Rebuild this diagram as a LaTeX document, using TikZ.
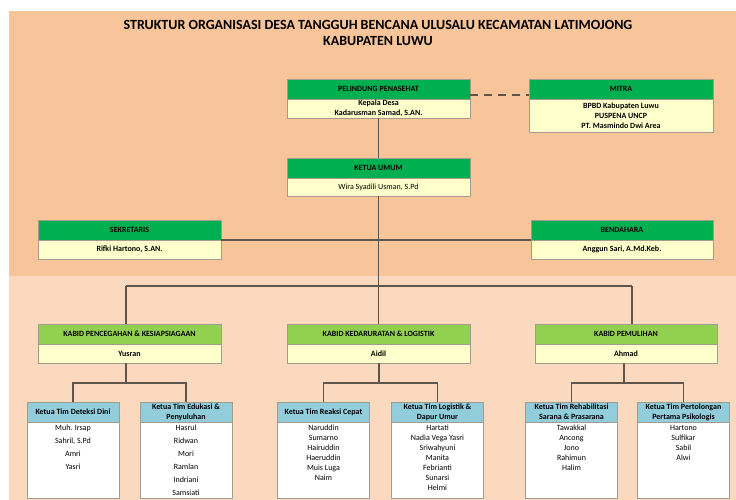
\documentclass[tikz,border=0pt]{standalone}
\usepackage{fontspec}
\setmainfont{Carlito}
\usepackage{tikz}
\usetikzlibrary{positioning}
\definecolor{bgtop}{HTML}{F8C59B}
\definecolor{bgbot}{HTML}{FBD9BF}
\definecolor{hgreen}{HTML}{00B050}
\definecolor{lgreen}{HTML}{92D050}
\definecolor{tblue}{HTML}{92CDDC}
\definecolor{byellow}{HTML}{FFFFCC}
\definecolor{boxline}{HTML}{A39C8E}
\definecolor{conn}{HTML}{5E554D}

\begin{document}
\begin{tikzpicture}[x=1pt,y=-1pt]
      \tikzstyle{every node}=[inner sep=1pt, outer sep=0pt]
      \tikzstyle{hd}=[draw=boxline, line width=0.6pt, minimum height=20pt, align=center, font=\bfseries\fontsize{8}{10}\selectfont]
      \tikzstyle{topbox}=[hd, fill=hgreen, minimum width=183pt]
      \tikzstyle{kabid}=[hd, fill=lgreen, minimum width=183pt]
      \tikzstyle{team}=[hd, fill=tblue, minimum width=92pt, inner sep=0.5pt]
      \tikzstyle{bd}=[draw=boxline, line width=0.6pt, fill=byellow, minimum width=183pt, minimum height=19pt, inner sep=0.5pt, align=center, font=\bfseries\fontsize{8}{10}\selectfont]
      \tikzstyle{lst}=[draw=boxline, line width=0.6pt, fill=white, minimum width=92pt, minimum height=76pt]
      \tikzstyle{names}=[inner sep=0pt, align=center, font=\fontsize{8}{10}\selectfont]
      \tikzstyle{link}=[draw=conn, line width=1.2pt]
      \tikzstyle{ttl}=[font=\bfseries\fontsize{14}{16}\selectfont]

      \fill[white] (0,0) rectangle (736,500);
      \fill[bgtop] (9,11) rectangle (736,276);
      \fill[bgbot] (9,276) rectangle (736,500);

      \node[ttl] (title) at (378,25) {STRUKTUR ORGANISASI DESA TANGGUH BENCANA ULUSALU KECAMATAN LATIMOJONG};
      \node[ttl] (subtitle) at (378,41) {KABUPATEN LUWU};

      \node[topbox] (pelH) at (378.5,89) {PELINDUNG PENASEHAT};
      \node[bd, below=0pt of pelH] (pelB) {Kepala Desa\\Kadarusman Samad, S.AN.};
      \node[topbox, minimum width=184pt] (mitH) at (621,89) {MITRA};
      \node[bd, minimum width=184pt, minimum height=33pt, below=0pt of mitH] (mitB) {BPBD Kabupaten Luwu\\PUSPENA UNCP\\PT. Masmindo Dwi Area};
      \node[topbox] (ketH) at (378.5,168) {KETUA UMUM};
      \node[bd, minimum height=18pt, font=\fontsize{8}{10}\selectfont, below=0pt of ketH] (ketB) {Wira Syadili Usman, S.Pd};
      \node[topbox] (sekH) at (129.5,230) {SEKRETARIS};
      \node[bd, below=0pt of sekH] (sekB) {Rifki Hartono, S.AN.};
      \node[topbox, minimum width=182pt] (benH) at (622,230) {BENDAHARA};
      \node[bd, minimum width=182pt, below=0pt of benH] (benB) {Anggun Sari, A.Md.Keb.};

      \node[kabid] (kb1H) at (129.5,334) {KABID PENCEGAHAN \& KESIAPSIAGAAN};
      \node[bd, below=0pt of kb1H] (kb1B) {Yusran};
      \node[kabid] (kb2H) at (378.5,334) {KABID KEDARURATAN \& LOGISTIK};
      \node[bd, below=0pt of kb2H] (kb2B) {Aidil};
      \node[kabid, minimum width=182pt] (kb3H) at (626,334) {KABID PEMULIHAN};
      \node[bd, minimum width=182pt, below=0pt of kb3H] (kb3B) {Ahmad};

      \node[team] (dtH) at (73,412) {Ketua Tim Deteksi Dini};
      \node[lst, below=0pt of dtH] (dtB) {};
      \node[names, font=\fontsize{8}{13}\selectfont, below=3pt of dtH] (dtL) {Muh. Irsap\\Sahril, S.Pd\\Amri\\Yasri};
      \node[team] (edH) at (186,412) {Ketua Tim Edukasi \&\\Penyuluhan};
      \node[lst, below=0pt of edH] (edB) {};
      \node[names, font=\fontsize{8}{13}\selectfont, below=3pt of edH] (edL) {Hasrul\\Ridwan\\Mori\\Ramlan\\Indriani\\Samsiati};
      \node[team] (rcH) at (323.5,412) {Ketua Tim Reaksi Cepat};
      \node[lst, below=0pt of rcH] (rcB) {};
      \node[names, below=3pt of rcH] (rcL) {Naruddin\\Sumarno\\Hairuddin\\Haeruddin\\Muis Luga\\Naim};
      \node[team] (lgH) at (437.5,412) {Ketua Tim Logistik \&\\Dapur Umur};
      \node[lst, below=0pt of lgH] (lgB) {};
      \node[names, below=3pt of lgH] (lgL) {Hartati\\Nadia Vega Yasri\\Sriwahyuni\\Manita\\Febrianti\\Sunarsi\\Helmi};
      \node[team] (rhH) at (571.5,412) {Ketua Tim Rehabilitasi\\Sarana \& Prasarana};
      \node[lst, below=0pt of rhH] (rhB) {};
      \node[names, below=3pt of rhH] (rhL) {Tawakkal\\Ancong\\Jono\\Rahimun\\Halim};
      \node[team] (ppH) at (683.5,412) {Ketua Tim Pertolongan\\Pertama Psikologis};
      \node[lst, below=0pt of ppH] (ppB) {};
      \node[names, below=3pt of ppH] (ppL) {Hartono\\Sulfikar\\Sabil\\Alwi};

      \coordinate (j1) at (126,286);
      \coordinate (j2) at (378.5,286);
      \coordinate (j3) at (632,286);
      \coordinate (b1) at (126,383);
      \coordinate (b2) at (379,383);
      \coordinate (b3) at (624,383);

      \draw[link, dash pattern=on 8pt off 6pt] ([yshift=4pt]pelH.south east) -- ([yshift=4pt]mitH.south west);
      \draw[link] (pelB.south) -- (ketH.north);
      \draw[link] (ketB.south) -- (j2) -- (kb2H.north);
      \draw[link] (sekH.south east) -- (benH.south west);
      \draw[link] (j1) -- (j3);
      \draw[link] (j1) -- (j1 |- kb1H.north);
      \draw[link] (j3) -- (j3 |- kb3H.north);

      \draw[link] (b1 |- kb1B.south) -- (b1);
      \draw[link] (dtH.north) -- (dtH.north |- b1) -- (edH.north |- b1) -- (edH.north);
      \draw[link] (b2 |- kb2B.south) -- (b2);
      \draw[link] (rcH.north) -- (rcH.north |- b2) -- (lgH.north |- b2) -- (lgH.north);
      \draw[link] (b3 |- kb3B.south) -- (b3);
      \draw[link] (rhH.north) -- (rhH.north |- b3) -- (ppH.north |- b3) -- (ppH.north);
\end{tikzpicture}
\end{document}
